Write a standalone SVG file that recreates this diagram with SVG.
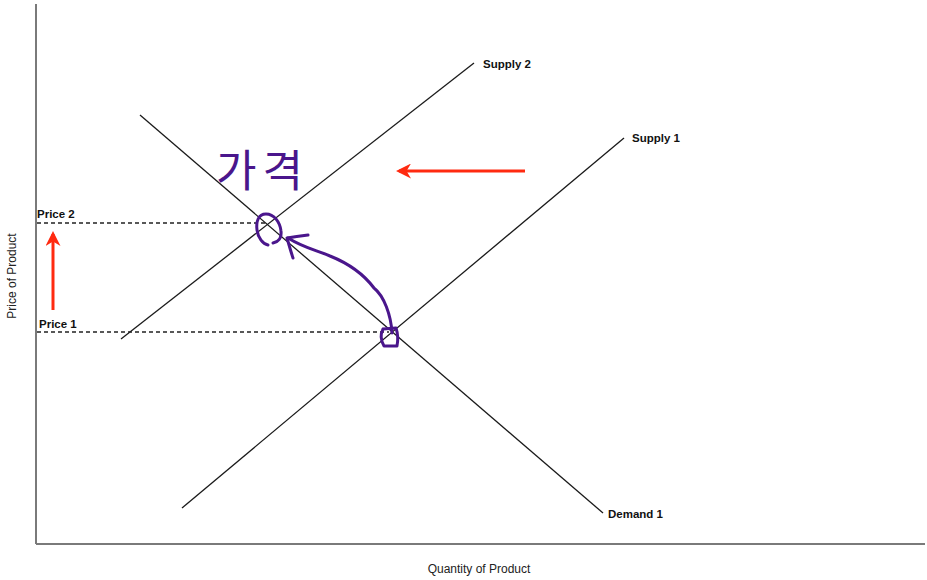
<svg xmlns="http://www.w3.org/2000/svg" width="927" height="580" viewBox="0 0 927 580">
<style>
.axis{stroke:#7a7a7a;stroke-width:2;fill:none}
.curve{stroke:#1a1a1a;stroke-width:1.3;fill:none}
.dash{stroke:#222;stroke-width:1.3;stroke-dasharray:4 3;fill:none}
.lbl{font-family:"Liberation Sans",Arial,sans-serif;font-size:11.5px;font-weight:bold;fill:#111}
.ax{font-family:"Liberation Sans",Arial,sans-serif;font-size:12px;fill:#222}
.red{stroke:#ff2a10;stroke-width:3;fill:none}
.pen{stroke:#4a168c;stroke-width:3;fill:none;stroke-linecap:round;stroke-linejoin:round}
</style>
<defs>
<marker id="redhead" viewBox="0 0 10 10" refX="8" refY="5" markerWidth="5" markerHeight="5" orient="auto-start-reverse" markerUnits="strokeWidth">
<path d="M0,0 L10,5 L0,10 L3,5 Z" fill="#ff2a10"/>
</marker>
</defs>
<rect width="927" height="580" fill="#fff"/>
<g id="axes">
<line class="axis" x1="36" y1="4" x2="36" y2="544"/>
<line class="axis" x1="36" y1="544" x2="925" y2="544"/>
<text class="ax" x="479" y="573" text-anchor="middle">Quantity of Product</text>
<text class="ax" x="0" y="0" text-anchor="middle" transform="translate(16,276) rotate(-90)">Price of Product</text>
</g>
<g id="supply2">
<line class="curve" x1="121" y1="339" x2="474" y2="63"/>
<text class="lbl" x="483" y="68">Supply 2</text>
</g>
<g id="supply1">
<line class="curve" x1="182" y1="508" x2="624" y2="138"/>
<text class="lbl" x="632" y="142">Supply 1</text>
</g>
<g id="demand1">
<line class="curve" x1="140" y1="115" x2="603" y2="513"/>
<text class="lbl" x="608" y="518">Demand 1</text>
</g>
<g id="price2">
<line class="dash" x1="37" y1="223" x2="266" y2="223"/>
<text class="lbl" x="37" y="218">Price 2</text>
</g>
<g id="price1">
<line class="dash" x1="37" y1="332" x2="389" y2="332"/>
<text class="lbl" x="39" y="328">Price 1</text>
</g>
<g id="connectors">
<line class="red" x1="53" y1="310" x2="53" y2="234" marker-end="url(#redhead)"/>
<line class="red" x1="525" y1="171" x2="399" y2="171" marker-end="url(#redhead)"/>
<path class="pen" d="M392,333 C391,315 384,296 374,288 C362,272 345,262 330,256 C316,250 304,248 288,238"/>
<path class="pen" d="M308,235 C300,236 293,237 287,238 C289,245 291,252 293,258"/>
</g>
<g id="annotations">
<path class="pen" d="M273,243 C278,242 282,238 281,231 C280,222 274,214 266,214 C258,214 256,222 257,230 C258,238 263,244 268,245"/>
<path class="pen" d="M383,329 L396,328 C398,334 398,341 397,346 L384,346 C381,341 380,335 383,329"/>
<text x="216" y="187" font-family="'Noto Sans CJK KR',sans-serif" font-size="44" letter-spacing="6" fill="#4a168c">가격</text>
</g>
</svg>
